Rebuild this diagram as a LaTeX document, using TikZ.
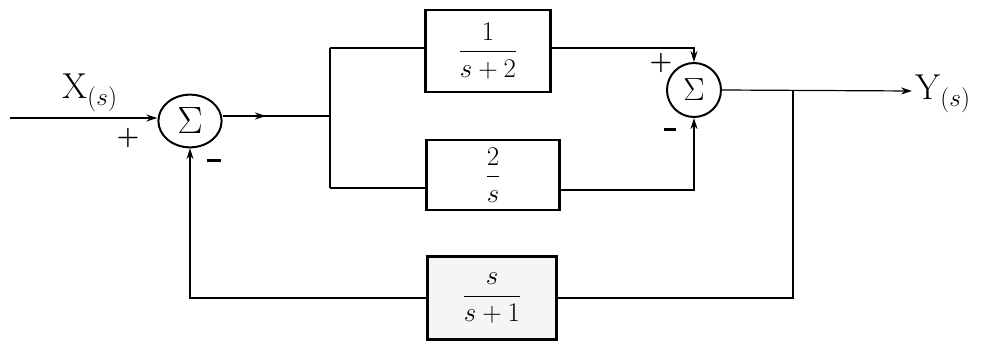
\RequirePackage{fix-cm}
\documentclass[tikz,border=0pt]{standalone}
\usepackage{amsmath}
\usepackage{fontspec}
\usetikzlibrary{arrows.meta}
\begin{document}
\begin{tikzpicture}[x=1pt,y=-1pt,
  wire/.style={line width=2pt},
  thinwire/.style={line width=1.2pt},
  blk/.style={draw,line width=2.2pt,fill=white,inner sep=0pt},
  arr/.style={-{Stealth[length=11pt,width=7pt]}},
  lbl/.style={font=\fontsize{36}{40}\selectfont},
  sgn/.style={font=\fontsize{26}{28}\selectfont\bfseries},
  frac/.style={font=\fontsize{27}{30}\selectfont}]
\useasboundingbox (0,0) rectangle (988,350);
% sums
\node[draw,line width=2pt,circle,minimum width=62pt,inner sep=0pt,xscale=1.02,yscale=0.85] (s1) at (190,121) {};
\node[font=\fontsize{38}{40}\selectfont] (s1t) at (190,121) {$\Sigma$};
\node[draw,line width=2pt,circle,minimum width=54pt,inner sep=0pt] (s2) at (694,90) {};
\node[font=\fontsize{32}{34}\selectfont] (s2t) at (694,90) {$\Sigma$};
% blocks
\node[blk,minimum width=125pt,minimum height=82pt,frac] (g1) at (488,51) {$\dfrac{1}{s+2}$};
\node[blk,minimum width=133pt,minimum height=70pt,frac] (g2) at (493,175) {$\dfrac{2}{s}$};
\node[blk,fill=gray!8,minimum width=129pt,minimum height=83pt,frac] (h) at (492,298) {$\dfrac{s}{s+1}$};
% coordinates
\coordinate (in) at (10,118);
\coordinate (br) at (330,116);
\coordinate (out) at (912,91);
\coordinate (fb) at (793,91);
% input
\draw[wire,arr] (in) -- (s1.west |- in);
\node[lbl] (xl) at (90,93) {X$_{(s)}$};
\node[sgn] (p1) at (128,138) {+};
\node[inner sep=0pt] (m1) at (214,160) {\rule{14pt}{3pt}};
% forward to branch
\draw[wire,arr] (s1.east |- br) -- (266,116);
\draw[wire] (262,116) -- (br);
\draw[wire] (330,48) -- (330,188);
\draw[wire] (330,48) -- (g1.west |- 0,48);
\draw[wire] (330,188) -- (g2.west |- 0,188);
% to sum2
\draw[wire,arr] (g1.east |- 0,48) -- (694,48) -- (s2.north);
\draw[wire,arr] (g2.east |- 0,190) -- (694,190) -- (s2.south);
\node[sgn] (p2) at (661,63) {+};
\node[inner sep=0pt] (m2) at (670,130) {\rule{12pt}{3pt}};
% output
\draw[thinwire,arr] (s2.east) -- (out);
\node[lbl,anchor=west] (yl) at (912,94) {Y$_{(s)}$};
% feedback
\draw[thinwire] (fb) -- (793,298) -- (h.east);
\draw[thinwire,arr] (h.west) -- (190,298) -- (s1.south);
\end{tikzpicture}
\end{document}
